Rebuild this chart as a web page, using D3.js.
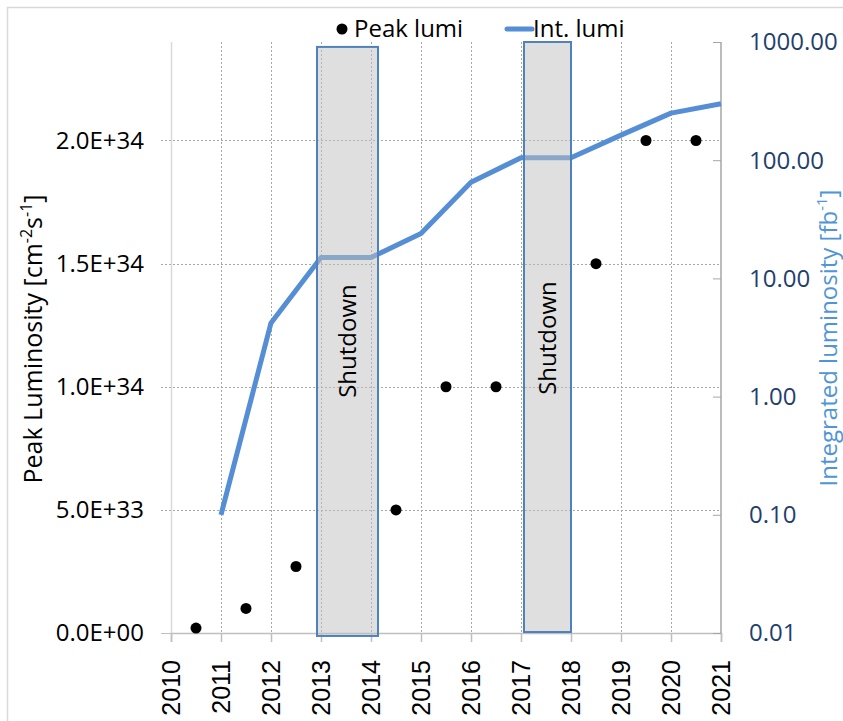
<!DOCTYPE html>
<html>
<head>
<meta charset="utf-8">
<script src="https://cdn.jsdelivr.net/npm/d3@7"></script>
<style>
  body { margin: 0; background: #fff; }
  svg { display: block; font-family: "Open Sans", "Noto Sans", sans-serif; }
</style>
</head>
<body>
<div id="chart"></div>
<script>
// Peak luminosity points (placed mid-year)
const peakYears = [2010.5, 2011.5, 2012.5, 2014.5, 2015.5, 2016.5, 2018.5, 2019.5, 2020.5];
const peakLumi = [2e32, 1.0e33, 2.7e33, 5e33, 1e34, 1e34, 1.5e34, 2e34, 2e34];

// Integrated luminosity line (fb^-1, log axis)
const intYears = [2011, 2012, 2013, 2014, 2015, 2016, 2017, 2018, 2019, 2020, 2021];
const intLumi = [0.1, 4.2, 15, 15, 24, 65, 105, 105, 163, 250, 300];

// Shutdown periods [start, end]
const shutdownStart = [2012.92, 2017.06];
const shutdownEnd = [2014.14, 2018.0];
const shutdownTop = [2.38e34, 2.4e34];
const shutdownBottom = [-1.2e32, 0.4e32];

const xTicks = d3.range(2010, 2022);
const leftTicks = [0, 5e33, 1e34, 1.5e34, 2e34];
const rightTicks = [0.01, 0.1, 1, 10, 100, 1000];

const W = 843, H = 721;
const plot = { left: 171, right: 721, top: 42, bottom: 633 };

const svg = d3.select("#chart").append("svg")
    .attr("width", W)
    .attr("height", H);

// outer chart frame
svg.append("rect")
    .attr("x", 7.5).attr("y", 7.5)
    .attr("width", 900).attr("height", 800)
    .attr("fill", "none")
    .attr("stroke", "#d9d9d9")
    .attr("stroke-width", 1.5);

// scales
const x = d3.scaleLinear().domain([2010, 2021]).range([plot.left, plot.right]);
const yL = d3.scaleLinear().domain([0, 2.4e34]).range([plot.bottom, plot.top]);
const yR = d3.scaleLog().domain([0.01, 1000]).range([plot.bottom, plot.top]);

// gridlines
const grid = svg.append("g").attr("stroke", "#a6a6a6").attr("stroke-dasharray", "2,2").attr("stroke-width", 1);
grid.selectAll(".hg").data(leftTicks.slice(1)).enter().append("line")
    .attr("x1", plot.left - 10).attr("x2", plot.right)
    .attr("y1", d => Math.round(yL(d)) + 0.5).attr("y2", d => Math.round(yL(d)) + 0.5);
grid.selectAll(".vg").data(xTicks.slice(1, -1)).enter().append("line")
    .attr("x1", d => Math.round(x(d)) + 0.5).attr("x2", d => Math.round(x(d)) + 0.5)
    .attr("y1", plot.top).attr("y2", plot.bottom);

// left axis line
svg.append("line")
    .attr("x1", plot.left + 0.5).attr("x2", plot.left + 0.5)
    .attr("y1", plot.top).attr("y2", plot.bottom)
    .attr("stroke", "#d9d9d9").attr("stroke-width", 1.5);
svg.append("line")
    .attr("x1", plot.left - 10).attr("x2", plot.left)
    .attr("y1", plot.bottom + 0.5).attr("y2", plot.bottom + 0.5)
    .attr("stroke", "#bfbfbf");

// bottom axis
const xAxis = svg.append("g")
    .attr("transform", `translate(0,${plot.bottom})`)
    .call(d3.axisBottom(x).tickValues(xTicks).tickFormat(d3.format("d")).tickSize(9).tickPadding(18));
xAxis.select(".domain").attr("stroke", "#bfbfbf").attr("stroke-width", 1.5);
xAxis.selectAll(".tick line").attr("stroke", "#bfbfbf").attr("stroke-width", 1.5);
xAxis.selectAll(".tick text")
    .attr("font-family", "'Liberation Sans', Arial, sans-serif")
    .attr("font-size", 25)
    .attr("fill", "#000")
    .attr("transform", "rotate(-90)")
    .attr("text-anchor", "end")
    .attr("x", -27)
    .attr("y", 0)
    .attr("dy", "0.35em");

// left tick labels
function sci(d) {
    const s = d.toExponential(1).toUpperCase();
    const [m, e] = s.split("E");
    const sign = e[0];
    const digits = e.slice(1).padStart(2, "0");
    return m + "E" + sign + digits;
}
svg.append("g").selectAll("text").data(leftTicks).enter().append("text")
    .attr("x", 144)
    .attr("y", d => yL(d))
    .attr("dy", "0.35em")
    .attr("text-anchor", "end")
    .attr("font-size", 24)
    .attr("fill", "#000")
    .text(sci);

// right axis
const rightAxis = svg.append("g")
    .attr("transform", `translate(${plot.right},0)`)
    .call(d3.axisLeft(yR).ticks(5).tickFormat("").tickSize(8));
rightAxis.select(".domain").attr("stroke", "#a6a6a6").attr("stroke-width", 1.5).attr("d", `M0,${plot.top}V${plot.bottom}`);
rightAxis.selectAll(".tick line").attr("stroke", "#a6a6a6");
svg.append("g").selectAll("text").data(rightTicks).enter().append("text")
    .attr("x", 749)
    .attr("y", d => yR(d))
    .attr("dy", "0.35em")
    .attr("font-size", 24)
    .attr("fill", "#1f3f6e")
    .text(d => d.toFixed(2));

// integrated lumi line
const line = d3.line()
    .x((d, i) => x(intYears[i]))
    .y(d => yR(d));
svg.append("path")
    .datum(intLumi)
    .attr("d", line)
    .attr("fill", "none")
    .attr("stroke", "#558ed5")
    .attr("stroke-width", 5)
    .attr("stroke-linejoin", "round");

// shutdown boxes
const boxes = svg.append("g");
shutdownStart.forEach((s, i) => {
    boxes.append("rect")
        .attr("x", x(s))
        .attr("y", yL(shutdownTop[i]))
        .attr("width", x(shutdownEnd[i]) - x(s))
        .attr("height", yL(shutdownBottom[i]) - yL(shutdownTop[i]))
        .attr("fill", "#bfbfbf")
        .attr("fill-opacity", 0.5)
        .attr("stroke", "#4f81bd")
        .attr("stroke-width", 2);
    const cx = (x(s) + x(shutdownEnd[i])) / 2;
    boxes.append("text")
        .attr("transform", `translate(${cx},${i === 0 ? 341 : 338}) rotate(-90)`)
        .attr("text-anchor", "middle")
        .attr("dy", "0.35em")
        .attr("font-size", 24)
        .attr("fill", "#000")
        .text("Shutdown");
});

// peak lumi points
svg.append("g").selectAll("circle").data(peakLumi).enter().append("circle")
    .attr("cx", (d, i) => x(peakYears[i]))
    .attr("cy", d => yL(d))
    .attr("r", 5.5)
    .attr("fill", "#000");

// axis titles
const lt = svg.append("text")
    .attr("transform", `translate(42,339) rotate(-90)`)
    .attr("text-anchor", "middle")
    .attr("font-size", 25)
    .attr("fill", "#000");
lt.append("tspan").text("Peak Luminosity [cm");
lt.append("tspan").attr("font-size", 16).attr("dy", -10).text("-2");
lt.append("tspan").attr("dy", 10).text("s");
lt.append("tspan").attr("font-size", 16).attr("dy", -10).text("-1");
lt.append("tspan").attr("dy", 10).text("]");

const rt = svg.append("text")
    .attr("transform", `translate(837,338) rotate(-90)`)
    .attr("text-anchor", "middle")
    .attr("font-size", 24)
    .attr("fill", "#4f95d8");
rt.append("tspan").text("Integrated luminosity [fb");
rt.append("tspan").attr("font-size", 15).attr("dy", -10).text("-1");
rt.append("tspan").attr("dy", 10).text("]");

// legend
const legend = svg.append("g").attr("font-size", 24).attr("fill", "#000");
legend.append("circle").attr("cx", 342).attr("cy", 29).attr("r", 5.5).attr("fill", "#000");
legend.append("text").attr("x", 354).attr("y", 29).attr("dy", "0.35em").text("Peak lumi");
legend.append("line").attr("x1", 507).attr("x2", 532).attr("y1", 29).attr("y2", 29)
    .attr("stroke", "#558ed5").attr("stroke-width", 5).attr("stroke-linecap", "round");
legend.append("text").attr("x", 533).attr("y", 29).attr("dy", "0.35em").text("Int. lumi");
</script>
</body>
</html>
